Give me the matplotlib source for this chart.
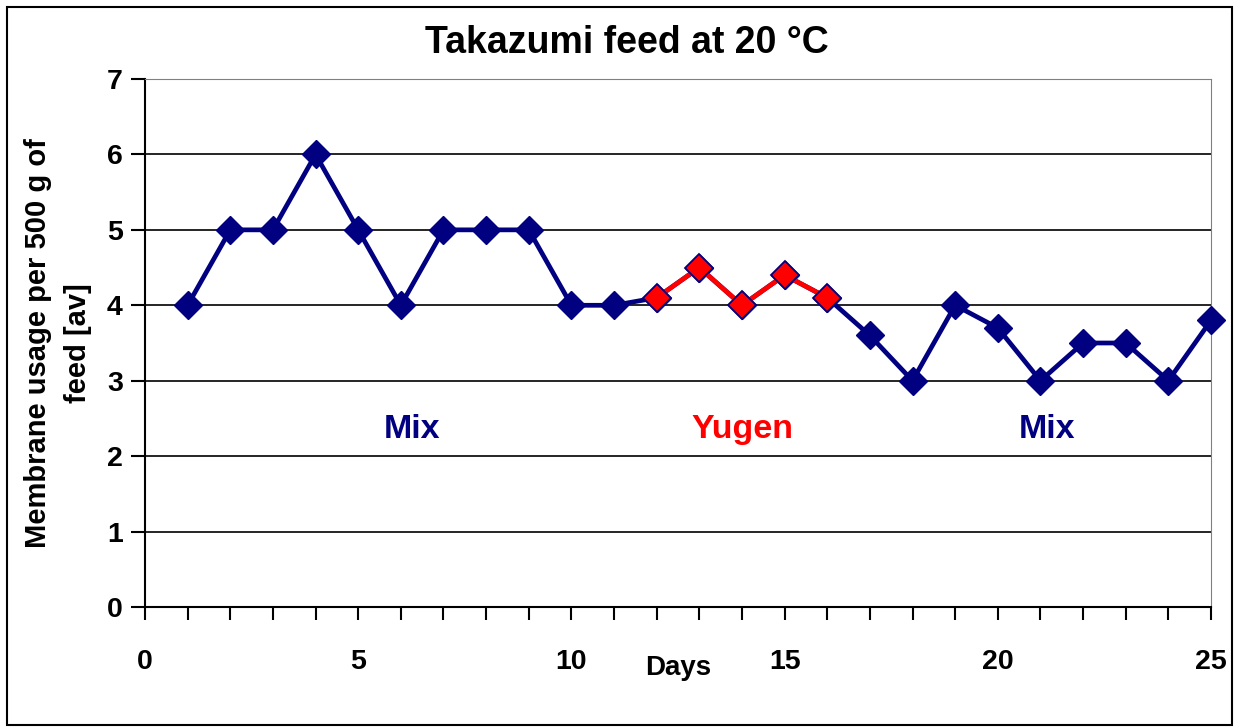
import matplotlib.pyplot as plt
from matplotlib.patches import Rectangle
from matplotlib.ticker import MultipleLocator

plt.rcParams['font.family'] = ['Liberation Sans', 'DejaVu Sans']

days = list(range(1, 26))
usage = [4, 5, 5, 6, 5, 4, 5, 5, 5, 4, 4, 4.1, 4.5, 4.0, 4.4, 4.1,
         3.6, 3.0, 4.0, 3.7, 3.0, 3.5, 3.5, 3.0, 3.8]
yugen_days = [12, 13, 14, 15, 16]
yugen_usage = [4.1, 4.5, 4.0, 4.4, 4.1]

labels = ["Mix", "Yugen", "Mix"]
label_x = [6.25, 14.0, 21.15]
label_y = [2.35, 2.35, 2.35]
label_colors = ["#000080", "#ff0000", "#000080"]

navy = "#000080"

fig = plt.figure(figsize=(12.4, 7.27), dpi=100)
fig.patches.append(Rectangle((7 / 1240, 2 / 727), 1225 / 1240, 718 / 727,
                             transform=fig.transFigure, fill=False,
                             edgecolor="black", linewidth=1.5))
ax = fig.add_axes([145 / 1240, 1 - 607 / 727, 1066 / 1240, 528 / 727])

ax.plot(days, usage, color=navy, linewidth=3.4, marker="D", markersize=14,
        markerfacecolor=navy, markeredgecolor=navy, zorder=3, clip_on=False)
ax.plot(yugen_days, yugen_usage, color="red", linewidth=3.4, marker="D",
        markersize=14, markerfacecolor="red", markeredgecolor=navy,
        markeredgewidth=1.3, zorder=4, clip_on=False)

for t, x, y, c in zip(labels, label_x, label_y, label_colors):
    ax.text(x, y, t, color=c, fontsize=24.5, fontweight="bold",
            ha="center", va="center")

ax.set_xlim(0, 25)
ax.set_ylim(0, 7)
ax.xaxis.set_major_locator(MultipleLocator(5))
ax.xaxis.set_minor_locator(MultipleLocator(1))
ax.yaxis.set_major_locator(MultipleLocator(1))
ax.grid(axis="y", color="black", linewidth=1.2)
ax.set_axisbelow(True)

ax.tick_params(axis="x", which="both", direction="out", length=9, width=1.5,
               labelsize=20.5, pad=21)
ax.tick_params(axis="y", direction="out", length=10, width=1.5,
               labelsize=20.5, pad=6)
for lab in ax.get_xticklabels() + ax.get_yticklabels():
    lab.set_fontweight("bold")

ax.spines["left"].set_linewidth(1.5)
ax.spines["bottom"].set_linewidth(1.5)
ax.spines["top"].set_color("#808080")
ax.spines["right"].set_color("#808080")

fig.text(627 / 1240, 1 - 43 / 727, "Takazumi feed at 20 °C", fontsize=27,
         fontweight="bold", ha="center", va="center")
ax.set_xlabel("Days", fontsize=20, fontweight="bold", labelpad=-14)
ax.set_ylabel("Membrane usage per 500 g of\nfeed [av]", fontsize=21,
              fontweight="bold", labelpad=11, linespacing=1.55)

fig.savefig("out.png", dpi=100)
